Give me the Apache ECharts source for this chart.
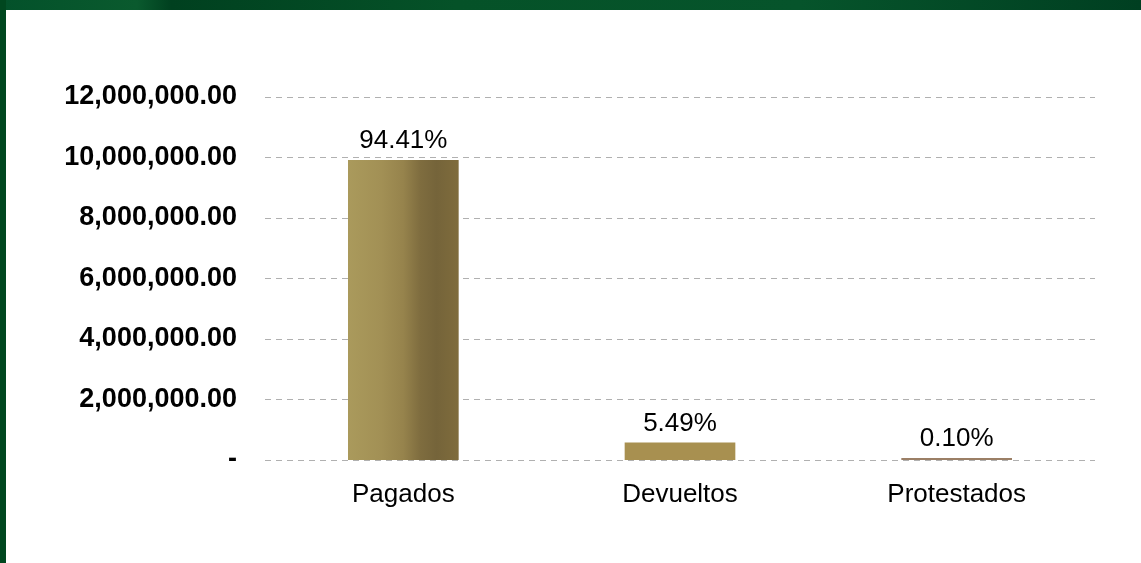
<!DOCTYPE html>
<html>
<head>
<meta charset="utf-8">
<script src="https://cdn.jsdelivr.net/npm/echarts@6/dist/echarts.min.js"></script>
<style>
  html, body { margin:0; padding:0; background:#fff; }
  #wrap { position:relative; width:1141px; height:563px; overflow:hidden; background:#fff; }
  #topbar { position:absolute; left:0; top:0; width:1141px; height:10px;
    background: linear-gradient(90deg, #03512a 0%, #0a5a2e 12%, #00401f 15%, #055228 40%, #06542b 70%, #003f21 100%); }
  #leftbar { position:absolute; left:0; top:0; width:6px; height:563px; background:#00471f; }
  #chart { position:absolute; left:0; top:0; width:1141px; height:563px; }
</style>
</head>
<body>
<div id="wrap">
  <div id="chart"></div>
  <div id="topbar"></div>
  <div id="leftbar"></div>
</div>
<script>
const categories = ['Pagados', 'Devueltos', 'Protestados'];
const values = [9920000, 577000, 10500];
const percentLabels = ['94.41%', '5.49%', '0.10%'];

const barColors = [
  new echarts.graphic.LinearGradient(0, 0, 1, 0, [
    { offset: 0, color: '#aa9a5c' },
    { offset: 0.3, color: '#a29055' },
    { offset: 0.5, color: '#96834c' },
    { offset: 0.65, color: '#7f6d3f' },
    { offset: 0.8, color: '#75643a' },
    { offset: 1, color: '#7f6c3c' }
  ]),
  '#a89050',
  '#9b7f66'
];

const FONT = 'Liberation Sans, Arial, sans-serif';
const chart = echarts.init(document.getElementById('chart'), null, { renderer: 'canvas' });
chart.setOption({
  animation: false,
  grid: { left: 265, right: 46, top: 97, bottom: 103, containLabel: false },
  xAxis: {
    type: 'category',
    data: categories,
    axisLine: { show: false },
    axisTick: { show: false },
    axisLabel: { color: '#000', fontSize: 26, fontFamily: FONT, margin: 22 }
  },
  yAxis: {
    type: 'value',
    min: 0,
    max: 12000000,
    interval: 2000000,
    axisLine: { show: false },
    axisTick: { show: false },
    splitLine: { lineStyle: { color: '#b0b0b0', type: [6, 5], width: 1 } },
    axisLabel: {
      color: '#000', fontSize: 27, fontWeight: 'bold', margin: 28,
      fontFamily: FONT,
      formatter: function (v) {
        if (v === 0) return '-';
        return v.toLocaleString('en-US', { minimumFractionDigits: 2, maximumFractionDigits: 2 });
      }
    }
  },
  series: [{
    type: 'bar',
    barWidth: '40%',
    barMinHeight: 2,
    data: values.map((v, i) => ({ value: v, itemStyle: { color: barColors[i] } })),
    label: {
      show: true,
      position: 'top',
      distance: 6,
      color: '#000',
      fontSize: 26,
      fontFamily: FONT,
      formatter: p => percentLabels[p.dataIndex]
    }
  }]
});
</script>
</body>
</html>
